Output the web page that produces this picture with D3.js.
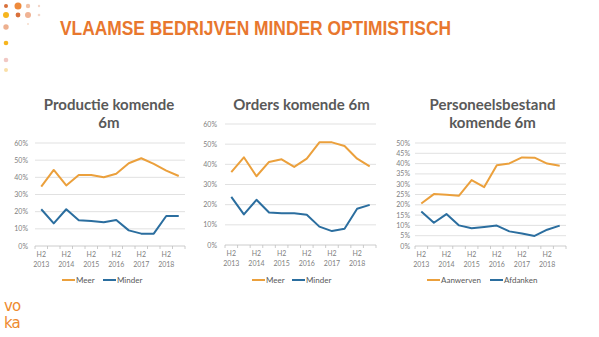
<!DOCTYPE html>
<html>
<head>
<meta charset="utf-8">
<script src="https://cdn.jsdelivr.net/npm/d3@7"></script>
<style>
  body { margin: 0; background: #fff; }
  svg { display: block; }
</style>
</head>
<body>
<div id="vis"></div>
<script>
var width = 599;
var height = 337;

// half-year periods, only the H2 ones get a label
const PERIODS = ["H2 2013", "H1 2014", "H2 2014", "H1 2015", "H2 2015", "H1 2016",
  "H2 2016", "H1 2017", "H2 2017", "H1 2018", "H2 2018", "H1 2019"];

// Productie komende 6m
const PROD_MEER = [34.6, 44.3, 35.3, 41.4, 41.4, 40.0, 42.1, 48.2, 51.1, 47.8, 43.9, 40.8];
const PROD_MINDER = [21.4, 13.2, 21.4, 15.0, 14.6, 13.8, 15.1, 9.1, 7.2, 7.2, 17.5, 17.5];

// Orders komende 6m
const ORD_MEER = [36.1, 43.5, 34.1, 41.2, 42.5, 38.7, 42.8, 50.9, 50.9, 49.1, 42.8, 39.0];
const ORD_MINDER = [23.9, 15.2, 22.4, 16.1, 15.7, 15.7, 15.0, 9.1, 6.9, 8.1, 18.0, 19.9];

// Personeelsbestand komende 6m
const PERS_AANW = [20.6, 25.2, 24.9, 24.4, 32.0, 28.6, 39.2, 40.1, 43.0, 42.9, 40.0, 39.0];
const PERS_AFD = [16.7, 11.3, 15.5, 10.0, 8.6, 9.2, 9.9, 7.1, 6.1, 4.9, 7.9, 9.9];

const TICKS_60 = [0, 10, 20, 30, 40, 50, 60];
const TICKS_50 = [0, 5, 10, 15, 20, 25, 30, 35, 40, 45, 50];

const ORANGE = "#EBA03C";
const BLUE = "#2B6E9F";
const GREY_TXT = "#595959";
const FONT = "Lato, 'Open Sans', sans-serif";

var svg = d3.select("#vis").append("svg")
  .attr("width", width)
  .attr("height", height);

// decorative dots top-left
var dots = [
  [6, 6, 2, "#D9703A"], [18, 6, 3.5, "#EE8A3C"], [28, 6, 2.2, "#F2C2A6"], [39, 6, 1.2, "#F3D6C8"],
  [6, 15, 3, "#F6B51E"], [18, 15, 2.4, "#D9703A"], [28, 15, 3, "#F0B394"], [39, 15, 1.3, "#F3D6C8"],
  [6, 27, 2.7, "#EDB08F"], [28, 24, 1, "#F6DCCB"], [6, 43, 2.3, "#F6B51E"],
  [6, 60, 2.3, "#F1C8C4"], [6, 70, 2, "#F9DFA8"]
];
svg.selectAll(".dot").data(dots).enter().append("circle")
  .attr("cx", d => d[0]).attr("cy", d => d[1]).attr("r", d => d[2])
  .attr("fill", d => d[3]);

// main title
svg.append("text")
  .attr("x", 60).attr("y", 35)
  .attr("textLength", 391).attr("lengthAdjust", "spacingAndGlyphs")
  .attr("font-family", "'Liberation Sans', Arial, sans-serif")
  .attr("font-weight", "bold").attr("font-size", 20)
  .attr("fill", "#E8772E")
  .text("VLAAMSE BEDRIJVEN MINDER OPTIMISTISCH");

// voka logo
var logo = svg.append("g").attr("font-family", "'DejaVu Sans', sans-serif")
  .attr("font-size", 15).attr("letter-spacing", -1).attr("fill", "#EE8A2E");
logo.append("text").attr("x", 4).attr("y", 311).text("vo");
logo.append("text").attr("x", 4).attr("y", 328).text("ka");

function panel(opt) {
  var g = svg.append("g");
  var x = d3.scaleBand().domain(PERIODS).range([opt.x0, opt.x1]);
  var y = d3.scaleLinear().domain([0, opt.max]).range([opt.yBottom, opt.yTop]);

  // title
  opt.title.forEach(function (t, i) {
    g.append("text")
      .attr("x", (opt.x0 + opt.x1) / 2 + opt.titleDx)
      .attr("y", 110 + i * 18)
      .attr("text-anchor", "middle")
      .attr("font-family", FONT).attr("font-weight", "bold").attr("font-size", 15)
      .attr("fill", GREY_TXT)
      .text(t);
  });

  // gridlines
  g.selectAll(".grid").data(opt.ticks.slice(1)).enter().append("line")
    .attr("x1", opt.x0).attr("x2", opt.x1)
    .attr("y1", d => y(d)).attr("y2", d => y(d))
    .attr("stroke", "#D9D9D9").attr("stroke-width", 0.8);

  // y labels
  g.selectAll(".ylab").data(opt.ticks).enter().append("text")
    .attr("x", opt.x0 - opt.labGap).attr("y", d => y(d) + 2.5)
    .attr("text-anchor", "end")
    .attr("font-family", FONT).attr("font-size", 7).attr("fill", "#7F7F7F")
    .text(d => d + "%");

  // x axis with ticks between categories
  g.append("line").attr("x1", opt.x0).attr("x2", opt.x1)
    .attr("y1", y(0)).attr("y2", y(0))
    .attr("stroke", "#BFBFBF").attr("stroke-width", 0.8);
  var edges = PERIODS.map(p => x(p)).concat([opt.x1]);
  g.selectAll(".tick").data(edges).enter().append("line")
    .attr("x1", d => d).attr("x2", d => d)
    .attr("y1", y(0)).attr("y2", y(0) + 3)
    .attr("stroke", "#BFBFBF").attr("stroke-width", 0.8);

  var labelled = PERIODS.filter(p => p.startsWith("H2"));
  var xl = g.selectAll(".xlab").data(labelled).enter().append("text")
    .attr("text-anchor", "middle")
    .attr("font-family", FONT).attr("font-size", 7).attr("fill", "#7F7F7F");
  xl.append("tspan").attr("x", d => x(d) + x.bandwidth() / 2).attr("y", y(0) + 11)
    .text(d => d.split(" ")[0]);
  xl.append("tspan").attr("x", d => x(d) + x.bandwidth() / 2).attr("y", y(0) + 21)
    .text(d => d.split(" ")[1]);

  // lines
  var line = d3.line()
    .x((d, i) => x(PERIODS[i]) + x.bandwidth() / 2)
    .y(d => y(d));
  opt.series.forEach(function (s) {
    g.append("path").datum(s.values)
      .attr("fill", "none").attr("stroke", s.color)
      .attr("stroke-width", 2).attr("stroke-linejoin", "round")
      .attr("d", line);
  });

  // legend
  var lx = opt.legendX;
  opt.series.forEach(function (s, i) {
    var sx = lx[i];
    g.append("line").attr("x1", sx).attr("x2", sx + 13)
      .attr("y1", 280).attr("y2", 280)
      .attr("stroke", s.color).attr("stroke-width", 2);
    g.append("text").attr("x", sx + 14).attr("y", 283)
      .attr("font-family", FONT).attr("font-size", 8).attr("fill", GREY_TXT)
      .text(s.name);
  });
}

panel({
  x0: 35, x1: 185, yTop: 143, yBottom: 246, max: 60, ticks: TICKS_60, labGap: 7,
  title: ["Productie komende", "6m"], titleDx: -1,
  series: [{ name: "Meer", values: PROD_MEER, color: ORANGE },
           { name: "Minder", values: PROD_MINDER, color: BLUE }],
  legendX: [62, 103]
});

panel({
  x0: 225, x1: 376, yTop: 124, yBottom: 245, max: 60, ticks: TICKS_60, labGap: 8,
  title: ["Orders komende 6m"], titleDx: 1,
  series: [{ name: "Meer", values: ORD_MEER, color: ORANGE },
           { name: "Minder", values: ORD_MINDER, color: BLUE }],
  legendX: [252, 292]
});

panel({
  x0: 415, x1: 566, yTop: 143, yBottom: 246, max: 50, ticks: TICKS_50, labGap: 5,
  title: ["Personeelsbestand", "komende 6m"], titleDx: 2,
  series: [{ name: "Aanwerven", values: PERS_AANW, color: ORANGE },
           { name: "Afdanken", values: PERS_AFD, color: BLUE }],
  legendX: [427, 490]
});
</script>
</body>
</html>
